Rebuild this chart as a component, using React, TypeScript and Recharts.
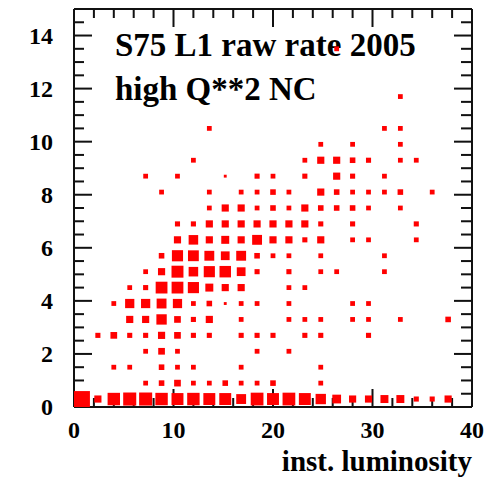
import { Label, ReferenceLine, Scatter, ScatterChart, XAxis, YAxis } from "recharts";

const BIN_X = 1.6; // luminosity bin width
const BIN_Y = 0.6; // rate bin height

// [luminosity bin, rate bin, relative box size]
const cells: [number, number, number][] = [
  [0, 0, 1.0], [1, 0, 0.45], [2, 0, 0.78], [3, 0, 0.82], [4, 0, 0.82], [5, 0, 0.78],
  [6, 0, 0.75], [7, 0, 0.78], [8, 0, 0.75], [9, 0, 0.75], [10, 0, 0.62], [11, 0, 0.8],
  [12, 0, 0.75], [13, 0, 0.8], [14, 0, 0.75], [15, 0, 0.65], [16, 0, 0.55], [17, 0, 0.45],
  [18, 0, 0.45], [19, 0, 0.5], [20, 0, 0.5], [21, 0, 0.32], [22, 0, 0.32], [23, 0, 0.45],
  [4, 1, 0.3], [5, 1, 0.35], [6, 1, 0.42], [7, 1, 0.3], [8, 1, 0.3], [9, 1, 0.35],
  [10, 1, 0.3], [11, 1, 0.3], [12, 1, 0.35], [15, 1, 0.3],
  [2, 2, 0.3], [3, 2, 0.3], [5, 2, 0.35], [6, 2, 0.3], [7, 2, 0.3], [10, 2, 0.3], [15, 2, 0.3],
  [4, 3, 0.3], [5, 3, 0.42], [6, 3, 0.3], [11, 3, 0.3], [13, 3, 0.3],
  [1, 4, 0.32], [2, 4, 0.42], [3, 4, 0.32], [4, 4, 0.32], [5, 4, 0.45], [6, 4, 0.42],
  [7, 4, 0.32], [8, 4, 0.32], [10, 4, 0.32], [11, 4, 0.32], [12, 4, 0.32], [14, 4, 0.32],
  [15, 4, 0.32], [18, 4, 0.32],
  [3, 5, 0.45], [4, 5, 0.45], [5, 5, 0.65], [6, 5, 0.42], [7, 5, 0.32], [8, 5, 0.45],
  [10, 5, 0.3], [13, 5, 0.3], [14, 5, 0.3], [15, 5, 0.3], [17, 5, 0.3], [18, 5, 0.3],
  [20, 5, 0.3], [23, 5, 0.35],
  [2, 6, 0.3], [3, 6, 0.58], [4, 6, 0.58], [5, 6, 0.62], [6, 6, 0.58], [7, 6, 0.3],
  [8, 6, 0.35], [9, 6, 0.18], [10, 6, 0.3], [11, 6, 0.3], [13, 6, 0.3], [17, 6, 0.3], [18, 6, 0.3],
  [3, 7, 0.3], [4, 7, 0.32], [5, 7, 0.74], [6, 7, 0.74], [7, 7, 0.7], [8, 7, 0.5],
  [9, 7, 0.45], [10, 7, 0.45], [13, 7, 0.3], [14, 7, 0.3],
  [4, 8, 0.3], [5, 8, 0.45], [6, 8, 0.75], [7, 8, 0.6], [8, 8, 0.7], [9, 8, 0.72],
  [10, 8, 0.55], [11, 8, 0.32], [13, 8, 0.32], [15, 8, 0.3], [16, 8, 0.3], [19, 8, 0.3],
  [5, 9, 0.35], [6, 9, 0.7], [7, 9, 0.68], [8, 9, 0.62], [9, 9, 0.55], [10, 9, 0.62],
  [11, 9, 0.35], [12, 9, 0.3], [13, 9, 0.3], [15, 9, 0.3], [19, 9, 0.3],
  [6, 10, 0.45], [7, 10, 0.6], [8, 10, 0.45], [9, 10, 0.5], [10, 10, 0.45], [11, 10, 0.62],
  [12, 10, 0.45], [13, 10, 0.45], [14, 10, 0.32], [15, 10, 0.45], [17, 10, 0.3],
  [18, 10, 0.3], [21, 10, 0.3],
  [6, 11, 0.32], [7, 11, 0.32], [8, 11, 0.45], [9, 11, 0.45], [10, 11, 0.45], [11, 11, 0.45],
  [12, 11, 0.45], [13, 11, 0.45], [14, 11, 0.45], [15, 11, 0.32], [17, 11, 0.32], [21, 11, 0.32],
  [8, 12, 0.3], [9, 12, 0.45], [10, 12, 0.45], [11, 12, 0.3], [12, 12, 0.35], [13, 12, 0.3],
  [14, 12, 0.45], [15, 12, 0.35], [16, 12, 0.35], [17, 12, 0.35], [18, 12, 0.3], [20, 12, 0.3],
  [5, 13, 0.3], [8, 13, 0.3], [10, 13, 0.3], [11, 13, 0.3], [12, 13, 0.35], [13, 13, 0.3],
  [15, 13, 0.45], [16, 13, 0.35], [17, 13, 0.3], [18, 13, 0.3], [19, 13, 0.3],
  [20, 13, 0.35], [22, 13, 0.3],
  [4, 14, 0.3], [6, 14, 0.3], [9, 14, 0.18], [11, 14, 0.32], [12, 14, 0.3], [14, 14, 0.32],
  [16, 14, 0.45], [17, 14, 0.32], [19, 14, 0.3],
  [7, 15, 0.3], [14, 15, 0.3], [15, 15, 0.45], [16, 15, 0.45], [17, 15, 0.35],
  [18, 15, 0.32], [20, 15, 0.3], [21, 15, 0.3],
  [15, 16, 0.3], [17, 16, 0.3], [20, 16, 0.3],
  [8, 17, 0.3], [19, 17, 0.3], [20, 17, 0.3],
  [20, 19, 0.3],
  [16, 22, 0.3],
];

const xTicks = [0, 2, 4, 6, 8, 10, 12, 14, 16, 18, 20, 22, 24, 26, 28, 30, 32, 34, 36, 38, 40];
const xLabels = [0, 10, 20, 30, 40];
const yTicks = [
  0, 0.5, 1, 1.5, 2, 2.5, 3, 3.5, 4, 4.5, 5, 5.5, 6, 6.5, 7, 7.5, 8, 8.5, 9, 9.5, 10,
  10.5, 11, 11.5, 12, 12.5, 13, 13.5, 14, 14.5, 15,
];
const yLabels = [0, 2, 4, 6, 8, 10, 12, 14];
const titleLines = ["S75 L1 raw rate 2005", "high Q**2 NC"];

const W = 489;
const H = 471;
const PLOT_W = 398;
const PLOT_H = 398;
const BIN_PX = PLOT_W / 25;
const PX_X = PLOT_W / 40; // pixels per luminosity unit
const PX_Y = PLOT_H / 15; // pixels per rate unit
const FONT = "'Liberation Serif', 'Times New Roman', serif";
const INK = "#111";

const data = cells.map(([i, j, s]) => ({
  lum: (i + 0.5) * BIN_X,
  rate: (j + 0.5) * BIN_Y,
  s,
}));

const Box = (props: any) => {
  const { cx, cy, payload } = props;
  const side = payload.s * BIN_PX;
  return <rect x={cx - side / 2} y={cy - side / 2} width={side} height={side} fill="#ff0000" />;
};

const labelStyle = { fontFamily: FONT, fontWeight: "bold" as const, fontSize: 24, fill: "#000" };

// labels below the frame, plus the mirrored inward ticks on the top edge
const BottomTick = ({ x, y, payload }: any) => {
  const major = xLabels.includes(payload.value);
  const len = major ? 18 : 9;
  return (
    <g>
      <rect x={x - 1} y={y - PLOT_H} width={2} height={len} fill={INK} />
      {major && (
        <text x={x} y={y + 31} textAnchor="middle" {...labelStyle}>
          {payload.value}
        </text>
      )}
    </g>
  );
};

// labels left of the frame, plus the mirrored inward ticks on the right edge
const LeftTick = ({ x, y, payload }: any) => {
  const major = yLabels.includes(payload.value);
  const rlen = major ? 18 : 11;
  return (
    <g>
      <rect x={x + PLOT_W - rlen} y={y - 1} width={rlen} height={2} fill={INK} />
      {major && (
        <text x={x - 21} y={y + 8} textAnchor="end" {...labelStyle}>
          {payload.value}
        </text>
      )}
    </g>
  );
};

const frame = { stroke: INK, strokeWidth: 2 };

export default function App() {
  return (
    <ScatterChart width={W} height={H} margin={{ top: 1, right: 25, bottom: 32, left: 6 }}>
      <Scatter data={data} dataKey="rate" shape={<Box />} isAnimationActive={false} />
      <XAxis
        type="number"
        dataKey="lum"
        domain={[0, 40]}
        ticks={xTicks}
        interval={0}
        tickSize={0}
        tickMargin={0}
        tickLine={false}
        axisLine={frame}
        tick={BottomTick}
        height={40}
      >
        <Label
          content={({ viewBox }: any) => (
            <text
              x={viewBox.x + viewBox.width}
              y={viewBox.y + 64}
              textAnchor="end"
              fontFamily={FONT}
              fontWeight="bold"
              fontSize={29}
              fill="#000"
            >
              inst. luminosity
            </text>
          )}
        />
      </XAxis>
      <YAxis
        type="number"
        dataKey="rate"
        domain={[0, 15]}
        ticks={yTicks}
        interval={0}
        tickSize={0}
        tickMargin={0}
        tickLine={false}
        axisLine={frame}
        tick={LeftTick}
        width={60}
      />
      {xTicks.map((v) => (
        <ReferenceLine
          key={`bx${v}`}
          segment={[
            { x: v, y: 0 },
            { x: v, y: (xLabels.includes(v) ? 18 : 9) / PX_Y },
          ]}
          stroke={INK}
          strokeWidth={2}
        />
      ))}
      {yTicks.map((v) => (
        <ReferenceLine
          key={`ly${v}`}
          segment={[
            { x: 0, y: v },
            { x: (yLabels.includes(v) ? 18 : 10) / PX_X, y: v },
          ]}
          stroke={INK}
          strokeWidth={2}
        />
      ))}
      <ReferenceLine y={15} stroke={INK} strokeWidth={2}>
        <Label
          content={({ viewBox }: any) => (
            <g fontFamily={FONT} fontWeight="bold" fontSize={33} fill="#000">
              {titleLines.map((line, k) => (
                <text key={line} x={viewBox.x + 41} y={viewBox.y + 47 + k * 44}>
                  {line}
                </text>
              ))}
            </g>
          )}
        />
      </ReferenceLine>
      <ReferenceLine x={40} stroke={INK} strokeWidth={2} />
    </ScatterChart>
  );
}
